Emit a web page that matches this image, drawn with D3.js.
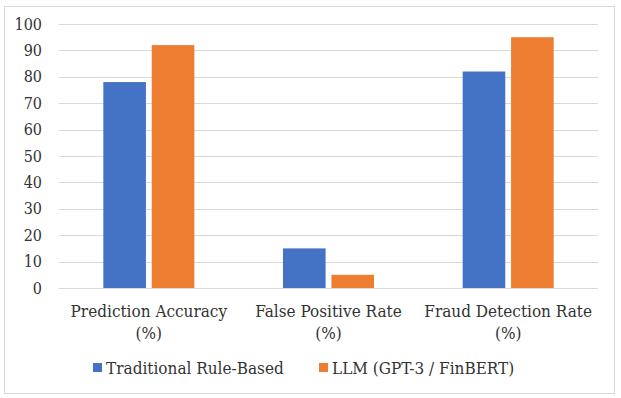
<!DOCTYPE html>
<html>
<head>
<meta charset="utf-8">
<script src="https://cdn.jsdelivr.net/npm/d3@7"></script>
<style>
  body { margin: 0; background: #fff; }
</style>
</head>
<body>
<svg id="chart" width="621" height="398"></svg>
<script>
(function() {
  // data
  var categories = [["Prediction Accuracy", "(%)"], ["False Positive Rate", "(%)"], ["Fraud Detection Rate", "(%)"]];
  var seriesNames = ["Traditional Rule-Based", "LLM (GPT-3 / FinBERT)"];
  var traditional = [78, 15, 82];
  var llm = [92, 5, 95];
  var yTicks = [0, 10, 20, 30, 40, 50, 60, 70, 80, 90, 100];
  var colors = ["#4472C4", "#ED7D31"];

  var FONT = "DejaVu Serif Condensed, DejaVu Serif, serif";
  var FS = 17;
  var svg = d3.select("#chart")
    .style("font-family", FONT);

  // outer frame
  svg.append("rect")
    .attr("x", 4.5).attr("y", 6.5).attr("width", 610).attr("height", 387)
    .attr("fill", "#fff").attr("stroke", "#d9d9d9");

  var left = 59, right = 598, top = 24, bottom = 288;

  var x0 = d3.scaleBand().domain(d3.range(categories.length)).range([left, right]);
  var x1 = d3.scaleBand().domain([0, 1]).range([0, 91]).paddingInner(0.12);
  var y = d3.scaleLinear().domain([0, 100]).range([bottom, top]);

  // gridlines
  svg.append("g").selectAll("line").data(yTicks).join("line")
    .attr("x1", left).attr("x2", right)
    .attr("y1", function(d) { return Math.round(y(d)) + 0.5; })
    .attr("y2", function(d) { return Math.round(y(d)) + 0.5; })
    .attr("stroke", "#d9d9d9").attr("stroke-width", 1);

  // y tick labels
  svg.append("g").selectAll("text").data(yTicks).join("text")
    .attr("x", 42).attr("y", function(d) { return y(d); })
    .attr("dy", "0.35em").attr("text-anchor", "end")
    .style("font-family", FONT).attr("fill", "#333")
    .attr("font-size", 16).text(function(d) { return d; });

  // bars
  var series = [traditional, llm];
  series.forEach(function(vals, s) {
    svg.append("g").selectAll("rect").data(vals).join("rect")
      .attr("x", function(d, i) { return x0(i) + x0.bandwidth() / 2 - 45.5 + x1(s); })
      .attr("width", x1.bandwidth())
      .attr("y", function(d) { return y(d); })
      .attr("height", function(d) { return y(0) - y(d); })
      .attr("fill", colors[s]);
  });

  // category labels
  var cat = svg.append("g").selectAll("text").data(categories).join("text")
    .attr("text-anchor", "middle").attr("font-size", FS)
    .style("font-family", FONT).attr("fill", "#333")
    .attr("x", function(d, i) { return x0(i) + x0.bandwidth() / 2; });
  cat.append("tspan").attr("y", 317).attr("x", function(d, i) { return x0(i) + x0.bandwidth() / 2; })
    .text(function(d) { return d[0]; });
  cat.append("tspan").attr("y", 339).attr("x", function(d, i) { return x0(i) + x0.bandwidth() / 2; })
    .text(function(d) { return d[1]; });

  // legend
  var legendX = [93, 319];
  var lg = svg.append("g").selectAll("g").data(seriesNames).join("g")
    .attr("transform", function(d, i) { return "translate(" + legendX[i] + ",0)"; });
  lg.append("rect").attr("x", 0).attr("y", 363).attr("width", 9).attr("height", 9)
    .attr("fill", function(d, i) { return colors[i]; });
  lg.append("text").attr("x", 13).attr("y", 374).attr("font-size", FS)
    .style("font-family", FONT).attr("fill", "#333")
    .text(function(d) { return d; });
}());
</script>
</body>
</html>
